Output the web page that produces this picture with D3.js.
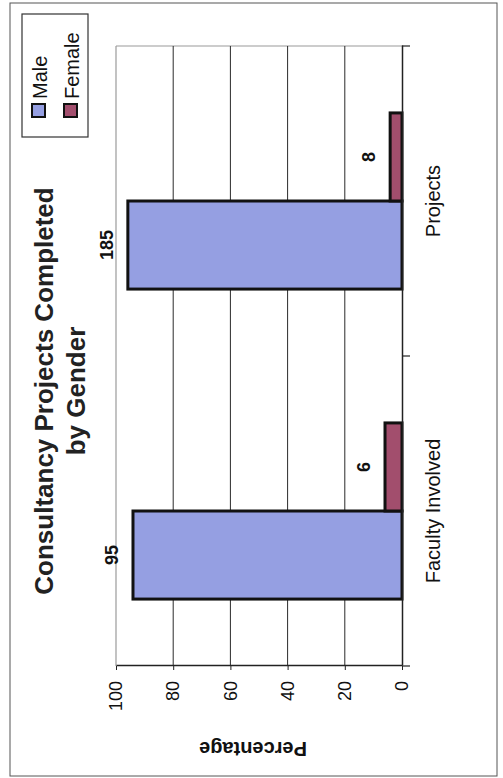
<!DOCTYPE html>
<html>
<head>
<meta charset="utf-8">
<script src="https://cdn.jsdelivr.net/npm/d3@7"></script>
<style>
  html, body { margin: 0; padding: 0; background: #fff; }
  svg { display: block; font-family: "Liberation Sans", Arial, sans-serif; }
</style>
</head>
<body>
<div id="chart"></div>
<script>
// Consultancy projects completed, split by gender (counts; bars show share in %)
const categories = ["Faculty Involved", "Projects"];
const series = ["Male", "Female"];
const maleCounts = [95, 185];
const femaleCounts = [6, 8];
const valueTicks = [0, 20, 40, 60, 80, 100];
const seriesColors = ["#959fe2", "#a24e6d"];

const W = 503, H = 778;

const svg = d3.select("#chart").append("svg")
  .attr("width", W).attr("height", H);
svg.append("rect").attr("width", W).attr("height", H).attr("fill", "#fff");

// The whole chart is laid out sideways: u runs along the page from bottom to top,
// v runs from left to right.
const g = svg.append("g").attr("transform", `translate(0,${H}) rotate(-90)`);

// outer frame
g.append("rect")
  .attr("x", 2).attr("y", 10).attr("width", 773).attr("height", 487)
  .attr("fill", "none").attr("stroke", "#555").attr("stroke-width", 1);

const rows = categories.map((c, i) => {
  const total = maleCounts[i] + femaleCounts[i];
  return {
    category: c,
    values: [
      { key: "Male", count: maleCounts[i], pct: maleCounts[i] / total * 100 },
      { key: "Female", count: femaleCounts[i], pct: femaleCounts[i] / total * 100 }
    ]
  };
});

const x = d3.scaleBand().domain(categories).range([112, 732]);
const xs = d3.scaleBand().domain(series).range([0, x.bandwidth()])
  .paddingInner(0).paddingOuter(0.76);
const y = d3.scaleLinear().domain([0, 100]).range([402, 116]);
const color = d3.scaleOrdinal().domain(series).range(seriesColors);

// plot-area border (grey) on the far sides
g.append("line").attr("x1", 112).attr("x2", 732).attr("y1", y(100)).attr("y2", y(100))
  .attr("stroke", "#9a9a9a").attr("stroke-width", 1.2);
g.append("line").attr("x1", 732).attr("x2", 732).attr("y1", y(100)).attr("y2", y(0))
  .attr("stroke", "#9a9a9a").attr("stroke-width", 1.2);

// gridlines
g.append("g").selectAll("line")
  .data(valueTicks.filter(t => t > 0 && t < 100))
  .join("line")
  .attr("x1", 112).attr("x2", 732)
  .attr("y1", d => y(d)).attr("y2", d => y(d))
  .attr("stroke", "#2a2a2a").attr("stroke-width", 1);

// bars
const groups = g.append("g").selectAll("g")
  .data(rows).join("g")
  .attr("transform", d => `translate(${x(d.category)},0)`);

groups.selectAll("rect")
  .data(d => d.values).join("rect")
  .attr("x", d => xs(d.key))
  .attr("width", xs.bandwidth())
  .attr("y", d => y(d.pct))
  .attr("height", d => y(0) - y(d.pct))
  .attr("fill", d => color(d.key))
  .attr("stroke", "#111").attr("stroke-width", 3);

groups.selectAll("text")
  .data(d => d.values).join("text")
  .attr("x", d => xs(d.key) + xs.bandwidth() / 2)
  .attr("y", d => y(d.pct) - 15)
  .attr("text-anchor", "middle")
  .attr("font-size", 18).attr("font-weight", "bold").attr("fill", "#111")
  .text(d => d.count);

// value axis
const yAxis = g.append("g").attr("transform", "translate(112,0)")
  .call(d3.axisLeft(y).tickValues(valueTicks).tickSize(4).tickSizeOuter(0).tickPadding(11));
yAxis.select(".domain").attr("stroke", "#222").attr("stroke-width", 1.5);
yAxis.selectAll(".tick line").attr("stroke", "#222");
yAxis.selectAll(".tick text").attr("font-size", 18).attr("fill", "#111")
  .attr("font-family", "Liberation Sans, Arial, sans-serif");

// category axis
const xAxis = g.append("g").attr("transform", `translate(0,${y(0)})`)
  .call(d3.axisBottom(x).tickSize(0).tickPadding(24));
xAxis.select(".domain").attr("stroke", "#222").attr("stroke-width", 1.5);
xAxis.selectAll(".tick text").attr("font-size", 20).attr("fill", "#111")
  .attr("font-family", "Liberation Sans, Arial, sans-serif");
const bounds = categories.map(c => x(c)).concat([x(categories[categories.length - 1]) + x.bandwidth()]);
xAxis.append("g").selectAll("line").data(bounds).join("line")
  .attr("x1", d => d).attr("x2", d => d).attr("y1", 0).attr("y2", 8)
  .attr("stroke", "#222").attr("stroke-width", 1.2);

// axis title
g.append("text")
  .attr("transform", `translate(36,${(y(0) + y(100)) / 2 - 6}) rotate(-90)`)
  .attr("text-anchor", "middle")
  .attr("font-size", 20).attr("font-weight", "bold").attr("fill", "#111")
  .text("Percentage");

// chart title
const title = g.append("text").attr("text-anchor", "middle")
  .attr("font-size", 26).attr("font-weight", "bold").attr("fill", "#222");
title.append("tspan").attr("x", 387).attr("y", 53).text("Consultancy Projects Completed");
title.append("tspan").attr("x", 387).attr("y", 85).text("by Gender");

// legend
const legend = g.append("g").attr("transform", "translate(641,22)");
legend.append("rect").attr("width", 123).attr("height", 66)
  .attr("fill", "#fff").attr("stroke", "#333").attr("stroke-width", 1.2);
const items = legend.selectAll("g.item").data(series).join("g")
  .attr("class", "item")
  .attr("transform", (d, i) => `translate(20,${10 + i * 32})`);
items.append("rect").attr("width", 13).attr("height", 13)
  .attr("fill", d => color(d)).attr("stroke", "#111").attr("stroke-width", 2);
items.append("text").attr("x", 18).attr("y", 15)
  .attr("font-size", 20).attr("fill", "#111").text(d => d);
</script>
</body>
</html>
